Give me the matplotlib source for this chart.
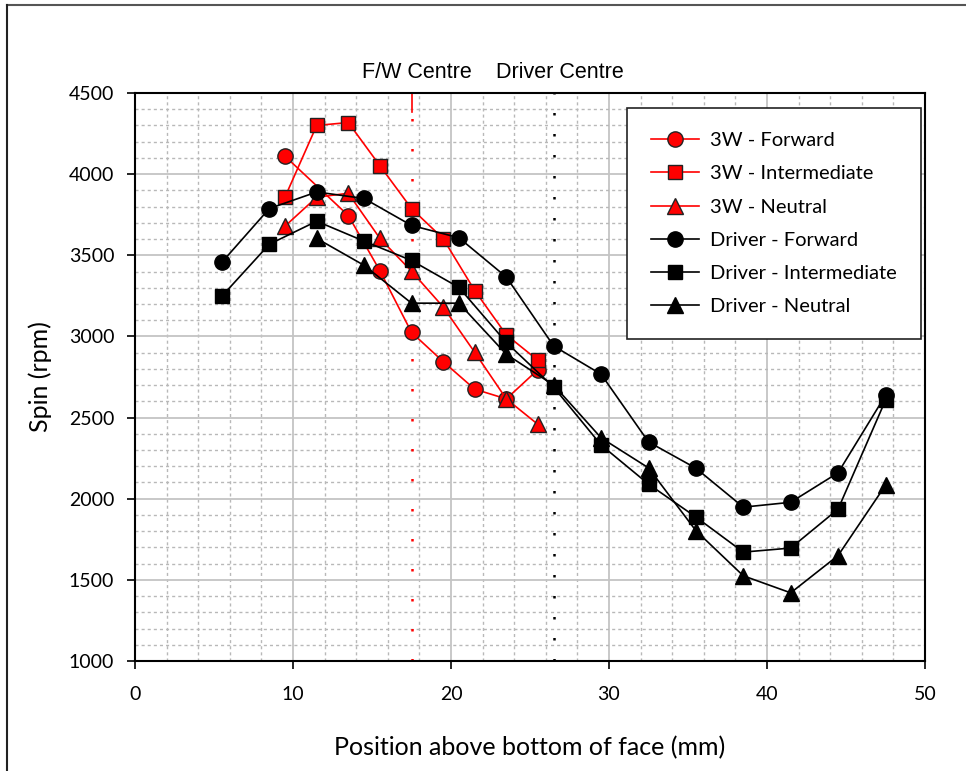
import matplotlib
matplotlib.use("Agg")
import matplotlib.pyplot as plt
from matplotlib.lines import Line2D
from matplotlib.ticker import MultipleLocator

# ---- data ----
x_3w = [9.5, 11.5, 13.5, 15.5, 17.5, 19.5, 21.5, 23.5, 25.5]
x_3w_fwd = [9.5, 13.5, 15.5, 17.5, 19.5, 21.5, 23.5, 25.5]
w3_forward = [4110, 3745, 3405, 3025, 2845, 2675, 2615, 2795]
w3_intermediate = [3860, 4300, 4318, 4052, 3788, 3603, 3283, 3010, 2853]
w3_neutral = [3680, 3858, 3882, 3604, 3402, 3182, 2902, 2615, 2458]

x_drv = [5.5, 8.5, 11.5, 14.5, 17.5, 20.5, 23.5, 26.5, 29.5, 32.5, 35.5, 38.5, 41.5, 44.5, 47.5]
drv_forward = [3457, 3788, 3890, 3850, 3684, 3608, 3366, 2941, 2767, 2350, 2188, 1948, 1978, 2160, 2637]
drv_intermediate = [3248, 3568, 3710, 3587, 3468, 3302, 2963, 2687, 2331, 2090, 1887, 1671, 1696, 1936, 2607]
x_drv_neu = [11.5, 14.5, 17.5, 20.5, 23.5, 26.5, 29.5, 32.5, 35.5, 38.5, 41.5, 44.5, 47.5]
drv_neutral = [3604, 3438, 3205, 3205, 2890, 2700, 2375, 2190, 1803, 1525, 1420, 1650, 2083]

fw_centre = 17.5
driver_centre = 26.5

x_ticks = [0, 10, 20, 30, 40, 50]
y_ticks = [1000, 1500, 2000, 2500, 3000, 3500, 4000, 4500]

FONT = ["Lato", "DejaVu Sans"]

fig = plt.figure(figsize=(9.66, 7.71), dpi=100)
ax = fig.add_axes([135/966, 1-661/771, 790/966, 568/771])

ax.set_xlim(0, 50)
ax.set_ylim(1000, 4500)
ax.set_xticks(x_ticks)
ax.set_yticks(y_ticks)
ax.xaxis.set_minor_locator(MultipleLocator(2))
ax.yaxis.set_minor_locator(MultipleLocator(100))
ax.grid(which="major", color="#c4c4c4", linewidth=1.3, linestyle="-", zorder=0)
ax.grid(which="minor", color="#b8b8b8", linewidth=1.0, linestyle=(0, (2.2, 2.2)), zorder=0)
ax.set_axisbelow(True)
ax.tick_params(which="major", direction="out", length=6, width=1.2, pad=9,
               labelsize=14)
ax.tick_params(axis="x", which="major", pad=12)
ax.tick_params(which="minor", length=0)
for lab in ax.get_xticklabels() + ax.get_yticklabels():
    lab.set_family(FONT)
for s in ax.spines.values():
    s.set_linewidth(1.5)

# reference lines
ax.plot([fw_centre, fw_centre], [4500, 4385], color="red", lw=1.2, clip_on=False, zorder=2)
ax.axvline(fw_centre, ymax=0.965, color="red", lw=1.8, linestyle=(0, (1.0, 11.0)), zorder=2)
ax.axvline(driver_centre, color="black", lw=1.8, linestyle=(0, (1.0, 7.4)), zorder=2)

fig.text(417/966, 1-73/771, "F/W Centre", ha="center", va="center", fontsize=15.5,
         family=["Liberation Sans", "DejaVu Sans"])
fig.text(560/966, 1-72/771, "Driver Centre", ha="center", va="center", fontsize=15.5,
         family=["Liberation Sans", "DejaVu Sans"])

lw = 1.2
red_kw = dict(color="red", markerfacecolor="red", markeredgecolor="#222222",
              markeredgewidth=1.0, lw=lw, zorder=3)
blk_kw = dict(color="black", markerfacecolor="black", markeredgecolor="black",
              lw=lw, zorder=3)

ax.plot(x_3w_fwd, w3_forward, marker="o", markersize=11, label="3W - Forward", **red_kw)
ax.plot(x_3w, w3_intermediate, marker="s", markersize=10, label="3W - Intermediate", **red_kw)
ax.plot(x_3w, w3_neutral, marker="^", markersize=11.5, label="3W - Neutral", **red_kw)
ax.plot(x_drv, drv_forward, marker="o", markersize=11, label="Driver - Forward", **blk_kw)
ax.plot(x_drv, drv_intermediate, marker="s", markersize=10, label="Driver - Intermediate", **blk_kw)
ax.plot(x_drv_neu, drv_neutral, marker="^", markersize=11.5, label="Driver - Neutral", **blk_kw)

leg = ax.legend(loc="upper left", bbox_to_anchor=(0.623, 0.9736), fancybox=False,
                edgecolor="#222222", framealpha=1, prop={"family": FONT, "size": 14.5},
                handlelength=2.35, handletextpad=0.58, labelspacing=0.8,
                borderpad=1.2, borderaxespad=0)
leg.get_frame().set_linewidth(1.2)

ax.set_xlabel("Position above bottom of face (mm)", fontsize=18, family=FONT, labelpad=24)
ax.set_ylabel("Spin (rpm)", fontsize=18, family=FONT, labelpad=12)

# outer border (top and left)
fig.add_artist(Line2D([7/966, 1.0], [1-5/771, 1-5/771], color="#555555", lw=1.5,
                      transform=fig.transFigure))
fig.add_artist(Line2D([7/966, 7/966], [0, 1-5/771], color="#222222", lw=1.5,
                      transform=fig.transFigure))

fig.savefig("out.png", dpi=100)
